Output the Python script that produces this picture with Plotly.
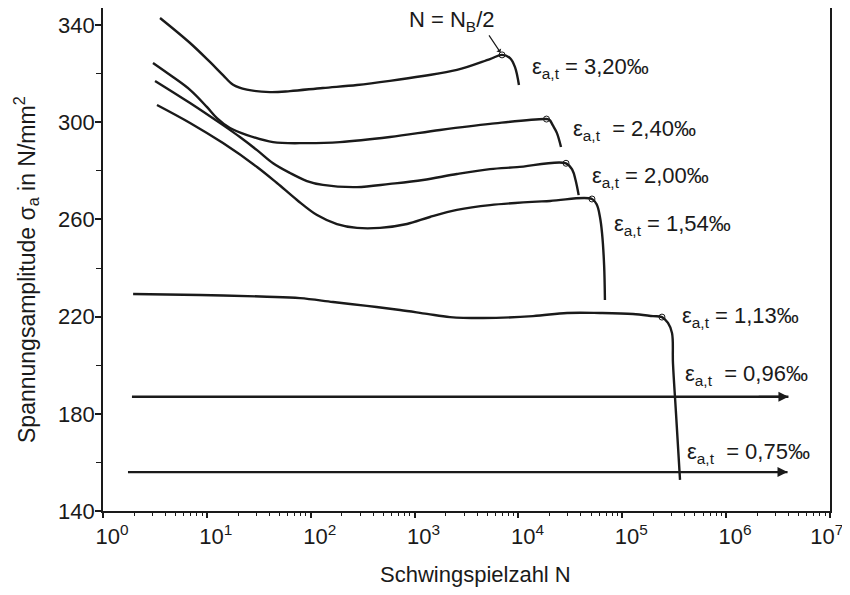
import math
import plotly.graph_objects as go

# ---- data (N = Schwingspielzahl, S = Spannungsamplitude in N/mm^2) ----
N_320 = [3.54, 6.89, 10.7, 14.3, 17.9, 24.3, 40.6, 63.1, 131, 279, 579, 1205, 2559, 5321, 6950, 8299, 9268, 10116]
S_320 = [342.9, 332.6, 324.8, 319.4, 315.4, 313.4, 312.4, 312.8, 314.1, 315.3, 317.0, 319.0, 321.5, 326.0, 327.7, 326.4, 322.7, 315.3]

N_240 = [3.03, 4.72, 6.89, 10.0, 12.5, 16.7, 24.4, 43.4, 92.0, 191, 579, 1758, 5321, 18620, 19950, 21380, 23440, 25700]
S_240 = [324.4, 318.6, 313.3, 306.3, 301.7, 297.6, 294.7, 291.8, 291.4, 291.8, 293.9, 296.8, 299.3, 301.3, 300.9, 298.8, 295.6, 289.8]

N_200 = [3.17, 6.89, 14.3, 20.8, 30.4, 43.4, 63.1, 92.0, 131, 279, 579, 1205, 2559, 5321, 9683, 28710, 33110, 35480, 38020]
S_200 = [317.0, 307.9, 298.8, 293.9, 288.5, 283.1, 279.1, 275.8, 274.2, 273.3, 274.6, 276.2, 278.7, 280.7, 281.5, 283.1, 280.3, 276.2, 270.0]

N_154 = [3.31, 6.89, 14.3, 30.4, 47.3, 73.8, 115, 179, 279, 465, 845, 1406, 2559, 5321, 20140, 51050, 57020, 60950, 63830, 66830, 68080]
S_154 = [307.1, 299.7, 291.4, 281.6, 275.0, 268.0, 261.8, 258.1, 256.5, 256.5, 258.1, 261.0, 263.9, 265.9, 267.6, 268.4, 265.9, 261.0, 254.4, 241.2, 226.8]

N_113 = [1.95, 8.59, 37.9, 78.9, 164, 348, 724, 1318, 2193, 4560, 13800, 29380, 60950, 126800, 197700, 241000, 275400, 301300, 307600, 328900, 359700]
S_113 = [229.3, 228.9, 228.2, 227.6, 226.0, 224.4, 222.7, 221.1, 219.8, 219.4, 220.2, 221.5, 221.5, 221.1, 220.2, 219.8, 217.4, 213.2, 200.8, 180.3, 152.8]

N_096 = [1.9, 3.98e6]
S_096 = [187.0, 187.0]
N_075 = [1.74, 3.9e6]
S_075 = [156.0, 156.0]

# N = N_B/2 points
N_half = [6950, 18620, 28710, 51050, 241000]
S_half = [327.7, 301.3, 283.1, 268.4, 219.8]

labels = ["ε<sub>a,t</sub> = 3,20‰", "ε<sub>a,t</sub>  = 2,40‰", "ε<sub>a,t</sub> = 2,00‰",
          "ε<sub>a,t</sub> = 1,54‰", "ε<sub>a,t</sub> = 1,13‰", "ε<sub>a,t</sub>  = 0,96‰",
          "ε<sub>a,t</sub>  = 0,75‰"]
label_N = [12900, 32100, 48900, 79700, 359700, 384500, 400000]
label_S = [322.3, 296.8, 277.4, 257.7, 219.8, 196.0, 163.9]

x_tickvals = [1, 10, 100, 1e3, 1e4, 1e5, 1e6, 1e7]
x_ticktext = ["10<sup>0</sup>", "10<sup>1</sup>", "10<sup>2</sup>", "10<sup>3</sup>",
              "10<sup>4</sup>", "10<sup>5</sup>", "10<sup>6</sup>",
              "10<sup>7</sup>\u00a0\u00a0\u00a0\u00a0"]
y_tickvals = [140, 180, 220, 260, 300, 340]

FONT = "Liberation Sans, Arial, sans-serif"
INK = "#1a1a1a"
LW = 2.4

fig = go.Figure()
for xs, ys in [(N_320, S_320), (N_240, S_240), (N_200, S_200), (N_154, S_154), (N_113, S_113)]:
    fig.add_trace(go.Scatter(x=xs, y=ys, mode="lines",
                             line=dict(color=INK, width=LW, shape="spline", smoothing=1.0),
                             showlegend=False, hoverinfo="skip"))
for xs, ys in [(N_096, S_096), (N_075, S_075)]:
    fig.add_trace(go.Scatter(x=xs, y=ys, mode="lines",
                             line=dict(color=INK, width=LW),
                             showlegend=False, hoverinfo="skip"))
    fig.add_annotation(x=math.log10(xs[-1]), y=ys[-1], ax=math.log10(xs[-1]) - 0.3, ay=ys[-1],
                       axref="x", ayref="y", xref="x", yref="y", text="",
                       showarrow=True, arrowhead=2, arrowsize=1.0, arrowwidth=2, arrowcolor=INK)

fig.add_trace(go.Scatter(x=N_half, y=S_half, mode="markers",
                         marker=dict(symbol="circle-open", size=6, color=INK, line=dict(width=1)),
                         showlegend=False, hoverinfo="skip"))

for t, xn, ys in zip(labels, label_N, label_S):
    fig.add_annotation(x=math.log10(xn), y=ys, text=t, showarrow=False, xanchor="left",
                       yanchor="middle", font=dict(family=FONT, size=22, color=INK))

# N = N_B/2 label with small arrow
fig.add_annotation(x=math.log10(N_half[0]), y=S_half[0], text="N = N<sub>B</sub>/2",
                   showarrow=False, xanchor="right", yanchor="bottom", xshift=-6, yshift=18,
                   font=dict(family=FONT, size=22, color=INK))
fig.add_annotation(x=math.log10(N_half[0]), y=S_half[0], text="", showarrow=True,
                   ax=-14, ay=-21, arrowhead=1, arrowsize=0.8, arrowwidth=1.2,
                   arrowcolor=INK, standoff=3)

# axis titles
fig.add_annotation(xref="paper", yref="paper", x=0.512, y=-0.127, text="Schwingspielzahl N",
                   showarrow=False, xanchor="center", yanchor="middle",
                   font=dict(family=FONT, size=22, color=INK))
fig.add_annotation(xref="paper", yref="paper", x=-0.106, y=0.481,
                   text="Spannungsamplitude σ<sub>a</sub> in N/mm<sup>2</sup>",
                   showarrow=False, xanchor="center", yanchor="middle", textangle=-90,
                   font=dict(family=FONT, size=23, color=INK))

minor_x = [k * 10 ** d for d in range(7) for k in range(2, 10)]

fig.update_xaxes(type="log", range=[0, 7], tickmode="array", tickvals=x_tickvals,
                 ticktext=x_ticktext, ticks="outside", ticklen=5, tickcolor=INK, tickwidth=1.5,
                 showline=True, linecolor=INK, linewidth=1.8, mirror=True, showgrid=False,
                 zeroline=False, automargin=False, ticklabelshift=9, tickangle=0,
                 ticklabeloverflow="allow",
                 minor=dict(tickmode="array", tickvals=minor_x, ticks="outside", ticklen=3,
                            tickcolor=INK, tickwidth=1.2, showgrid=False),
                 tickfont=dict(family=FONT, size=22, color=INK))
fig.update_yaxes(range=[140, 347], tickmode="array", tickvals=y_tickvals, ticks="outside",
                 ticklen=6, tickcolor=INK, tickwidth=1.5,
                 showline=True, linecolor=INK, linewidth=1.8, mirror=True, showgrid=False,
                 zeroline=False, automargin=False, ticklabelstandoff=-4,
                 minor=dict(dtick=20, tick0=140, ticks="outside", ticklen=5, tickcolor=INK,
                            tickwidth=1.2, showgrid=False),
                 tickfont=dict(family=FONT, size=22, color=INK))

# the page body adds an 8 px offset, compensated in the margins
fig.update_layout(width=850, height=595, margin=dict(l=95, r=28, t=0, b=92),
                  plot_bgcolor="white", paper_bgcolor="white",
                  font=dict(family=FONT, color=INK))

fig.write_html("out.html")
